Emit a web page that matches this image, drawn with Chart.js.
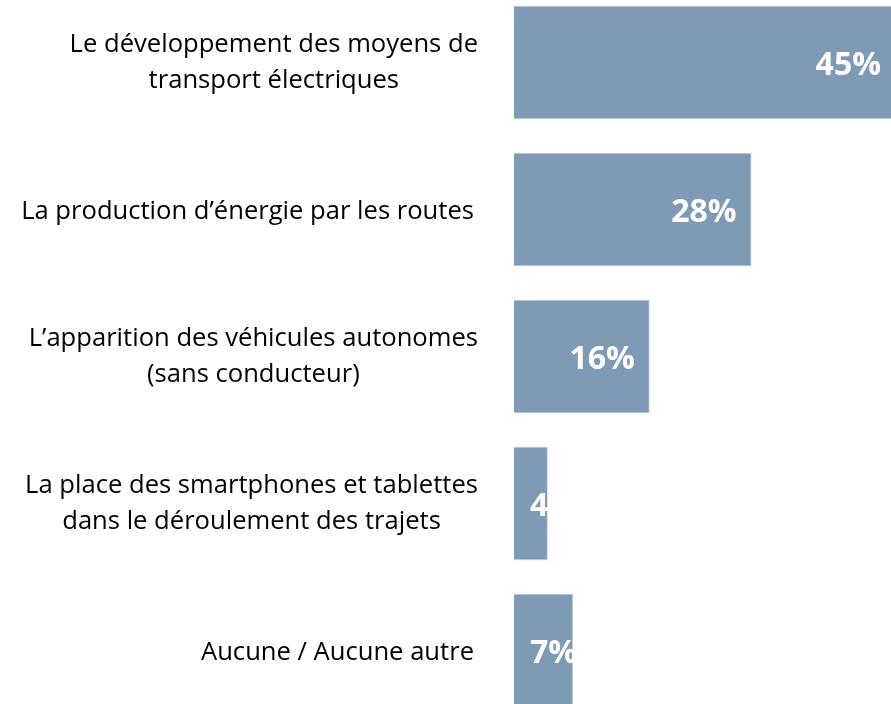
<!DOCTYPE html>
<html>
<head>
<meta charset="utf-8">
<script src="https://cdn.jsdelivr.net/npm/chart.js@4.4.1/dist/chart.umd.min.js"></script>
<style>
    html, body { margin: 0; padding: 0; background: #fff; overflow: hidden; width: 891px; height: 704px; }
    #wrap { position: absolute; left: 0; top: -11px; width: 896px; height: 735px; }
</style>
</head>
<body>
<div id="wrap"><canvas id="chart"></canvas></div>
<script>
const categories = [
    ['Le développement des moyens de', 'transport électriques'],
    ['La production d’énergie par les routes'],
    ['L’apparition des véhicules autonomes', '(sans conducteur)'],
    ['La place des smartphones et tablettes', 'dans le déroulement des trajets'],
    ['Aucune / Aucune autre']
];
const values = [45, 28, 16, 4, 7];
const valueLabels = ['45%', '28%', '16%', '4%', '7%'];

const labelFont = '25.6px "Open Sans", sans-serif';
const valueFont = 'bold 32px "Open Sans", sans-serif';

// category labels: lines centred with each other, block right-aligned
const categoryLabels = {
    id: 'categoryLabels',
    afterDraw(chart) {
        const ctx = chart.ctx;
        const yScale = chart.scales.y;
        const lineHeight = 36;
        ctx.save();
        ctx.font = labelFont;
        ctx.fillStyle = '#000';
        ctx.textAlign = 'center';
        ctx.textBaseline = 'middle';
        categories.forEach((lines, i) => {
            const right = lines.length > 1 ? 478 : 474;
            const widest = Math.max(...lines.map(l => ctx.measureText(l).width));
            const cx = right - widest / 2;
            const cy = yScale.getPixelForValue(i) + (lines.length > 1 ? 0 : 2);
            const top = cy - (lines.length - 1) * lineHeight / 2;
            lines.forEach((l, j) => ctx.fillText(l, cx, top + j * lineHeight));
        });
        ctx.restore();
    }
};

// value labels at the inside end, clipped to the bar
const valueLabelsPlugin = {
    id: 'valueLabels',
    afterDatasetsDraw(chart) {
        const ctx = chart.ctx;
        const meta = chart.getDatasetMeta(0);
        ctx.save();
        ctx.font = valueFont;
        ctx.fillStyle = '#fff';
        ctx.textAlign = 'left';
        ctx.textBaseline = 'middle';
        meta.data.forEach((bar, i) => {
            const w = ctx.measureText(valueLabels[i]).width;
            const x = Math.max(bar.x - 15 - w, bar.base + 16);
            ctx.save();
            ctx.beginPath();
            ctx.rect(bar.base, bar.y - bar.height / 2, bar.x - bar.base, bar.height);
            ctx.clip();
            ctx.fillText(valueLabels[i], x, bar.y + 3);
            ctx.restore();
        });
        ctx.restore();
    }
};

new Chart(document.getElementById('chart'), {
    type: 'bar',
    data: {
        labels: categories.map(c => c.join(' ')),
        datasets: [{
            data: values,
            backgroundColor: '#7f9ab4',
            borderColor: '#d9e2ec',
            borderWidth: 1,
            categoryPercentage: 1,
            barPercentage: 0.775
        }]
    },
    options: {
        indexAxis: 'y',
        responsive: true,
        maintainAspectRatio: false,
        animation: false,
        layout: { padding: { left: 514, right: 0, top: 0, bottom: 0 } },
        plugins: {
            legend: { display: false },
            tooltip: { enabled: false }
        },
        scales: {
            x: { display: false, min: 0, max: 45 },
            y: { display: false }
        }
    },
    plugins: [categoryLabels, valueLabelsPlugin]
});
</script>
</body>
</html>
